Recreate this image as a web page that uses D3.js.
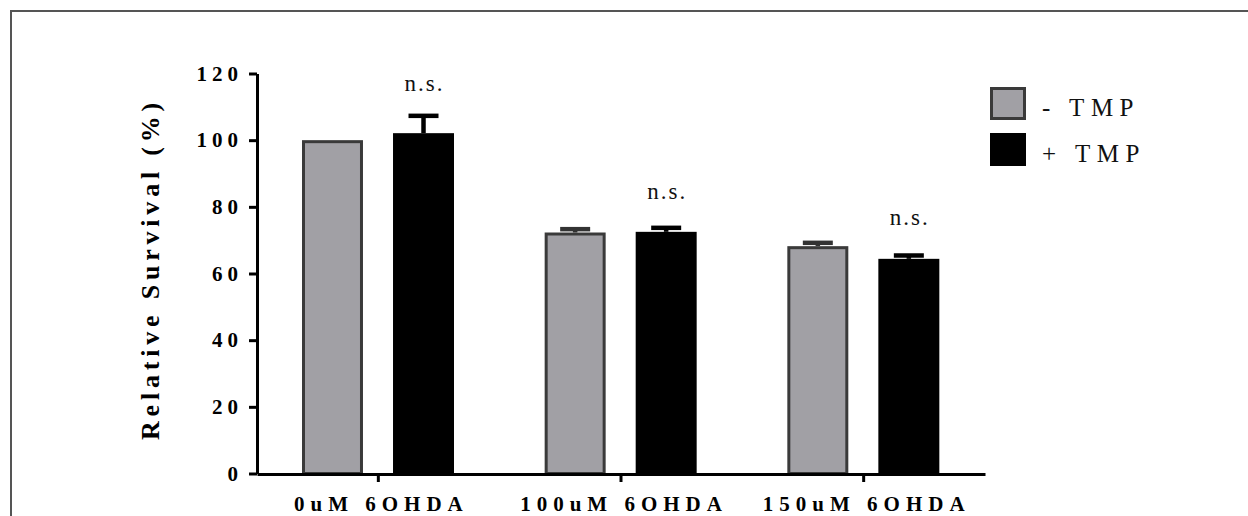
<!DOCTYPE html>
<html>
<head>
<meta charset="utf-8">
<script src="https://cdn.jsdelivr.net/npm/d3@7"></script>
<style>
  html, body { margin: 0; padding: 0; background: #fff; }
  svg { display: block; }
</style>
</head>
<body>
<svg id="chart" width="1248" height="516"></svg>
<script>
// ---- data ----
const categories = ["0uM 6OHDA", "100uM 6OHDA", "150uM 6OHDA"];
const seriesNames = ["- TMP", "+ TMP"];
const minusTMP = [100, 72.3, 68.2];
const plusTMP = [102.1, 72.5, 64.4];
const minusTMPErr = [0, 1.0, 1.0];
const plusTMPErr = [5.2, 1.2, 1.0];
const yTicks = [0, 20, 40, 60, 80, 100, 120];
const sigLabels = ["n.s.", "n.s.", "n.s."];
const sigLevels = [114.8, 82.5, 74.5];

const FONT = "'Liberation Serif', 'Times New Roman', serif";
const svg = d3.select("#chart");

// frame
svg.append("rect")
  .attr("x", 11).attr("y", 11)
  .attr("width", 1300).attr("height", 600)
  .attr("fill", "none").attr("stroke", "#555").attr("stroke-width", 2);

const x0 = d3.scaleBand().domain(categories).range([257, 985]).padding(0);
const x1 = d3.scaleBand().domain(seriesNames).range([45, 197]).paddingInner(0.33);
const y = d3.scaleLinear().domain([0, 120]).range([473.5, 73.5]);

const fills = { "- TMP": "#a1a0a5", "+ TMP": "#000000" };
const strokes = { "- TMP": "#3a3a3a", "+ TMP": "#000000" };
const errColor = { "- TMP": "#333333", "+ TMP": "#000000" };

const rows = categories.map((c, i) => ({
  cat: c,
  bars: [
    { s: "- TMP", v: minusTMP[i], e: minusTMPErr[i] },
    { s: "+ TMP", v: plusTMP[i], e: plusTMPErr[i] }
  ],
  sig: sigLabels[i],
  sigY: sigLevels[i]
}));

const groups = svg.append("g").selectAll("g").data(rows).join("g")
  .attr("transform", d => `translate(${x0(d.cat)},0)`);

groups.selectAll("g.err").data(d => d.bars.filter(b => b.e > 0)).join("g")
  .attr("class", "err")
  .each(function (b) {
    const g = d3.select(this);
    const cx = x1(b.s) + x1.bandwidth() / 2;
    g.append("line")
      .attr("x1", cx).attr("x2", cx)
      .attr("y1", y(b.v)).attr("y2", y(b.v + b.e))
      .attr("stroke", errColor[b.s]).attr("stroke-width", 4.5);
    g.append("line")
      .attr("x1", cx - 15).attr("x2", cx + 15)
      .attr("y1", y(b.v + b.e)).attr("y2", y(b.v + b.e))
      .attr("stroke", errColor[b.s]).attr("stroke-width", 4.5);
  });

groups.selectAll("rect.bar").data(d => d.bars).join("rect")
  .attr("class", "bar")
  .attr("x", b => x1(b.s) + (b.s === "- TMP" ? 1.5 : 0))
  .attr("width", b => x1.bandwidth() - (b.s === "- TMP" ? 3 : 0))
  .attr("y", b => y(b.v) + (b.s === "- TMP" ? 1.5 : 0))
  .attr("height", b => y(0) - y(b.v) - (b.s === "- TMP" ? 1.5 : 0))
  .attr("fill", b => fills[b.s])
  .attr("stroke", b => b.s === "- TMP" ? strokes[b.s] : "none")
  .attr("stroke-width", 3);

groups.append("text")
  .attr("x", d => x1("+ TMP") + x1.bandwidth() / 2 + 1)
  .attr("y", d => y(d.sigY))
  .attr("text-anchor", "middle")
  .style("font-family", FONT)
  .style("font-size", "23px")
  .attr("letter-spacing", 2)
  .attr("fill", "#111")
  .text(d => d.sig);

const yAxis = d3.axisLeft(y).tickValues(yTicks).tickSize(8).tickSizeOuter(0).tickPadding(6);
const gy = svg.append("g").attr("transform", "translate(257,0)").call(yAxis);
gy.attr("font-family", null).attr("font-size", null);
gy.select(".domain").attr("stroke", "#000").attr("stroke-width", 3);
gy.selectAll(".tick line").attr("stroke", "#000").attr("stroke-width", 3);
gy.selectAll(".tick text")
  .style("font-family", FONT)
  .style("font-size", "21px").style("font-weight", "bold")
  .attr("letter-spacing", 5).attr("fill", "#000");

const xAxis = d3.axisBottom(x0).tickSize(8).tickSizeOuter(0).tickPadding(14);
const gx = svg.append("g").attr("transform", "translate(0,474)").call(xAxis);
gx.attr("font-family", null).attr("font-size", null);
gx.select(".domain").attr("stroke", "#000").attr("stroke-width", 3);
gx.selectAll(".tick line").attr("stroke", "#000").attr("stroke-width", 3);
gx.selectAll(".tick text")
  .style("font-family", FONT)
  .style("font-size", "21px").style("font-weight", "bold")
  .attr("letter-spacing", 6).attr("fill", "#000")
  .attr("dx", 3);

svg.append("text")
  .attr("transform", "translate(159,269) rotate(-90)")
  .attr("text-anchor", "middle")
  .style("font-family", FONT)
  .style("font-size", "26px").style("font-weight", "bold")
  .attr("letter-spacing", 4.8)
  .attr("fill", "#000")
  .text("Relative Survival (%)");

const legend = svg.append("g").selectAll("g").data(seriesNames).join("g")
  .attr("transform", (d, i) => `translate(990,${87 + i * 46})`);
legend.append("rect")
  .attr("x", d => d === "- TMP" ? 1.5 : 0)
  .attr("y", d => d === "- TMP" ? 1.5 : 0)
  .attr("width", d => d === "- TMP" ? 33 : 36)
  .attr("height", d => d === "- TMP" ? 30 : 33)
  .attr("fill", d => fills[d])
  .attr("stroke", d => d === "- TMP" ? strokes[d] : "none")
  .attr("stroke-width", 3);
legend.append("text")
  .attr("x", 52).attr("y", 29)
  .style("font-family", FONT)
  .style("font-size", "25px")
  .attr("letter-spacing", 6.5)
  .attr("fill", "#111")
  .text(d => d);
</script>
</body>
</html>
